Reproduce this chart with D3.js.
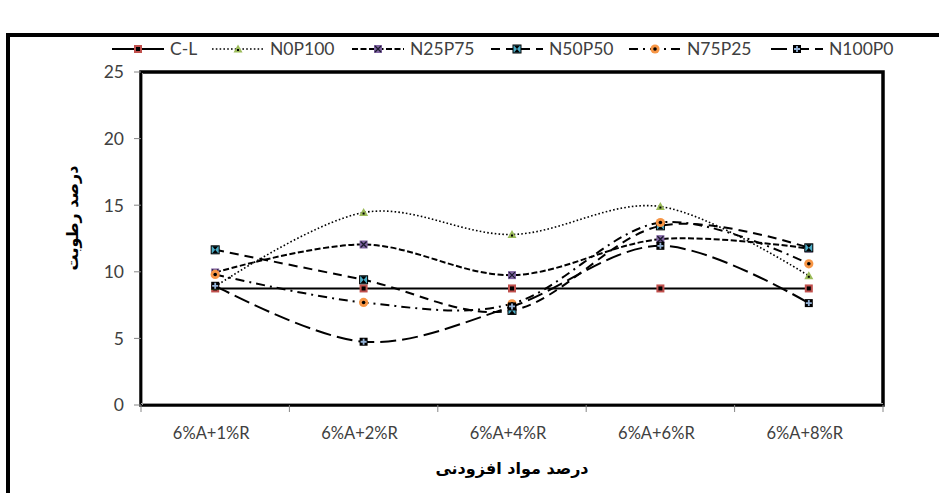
<!DOCTYPE html>
<html>
<head>
<meta charset="utf-8">
<script src="https://cdn.jsdelivr.net/npm/d3@7"></script>
<style>
html,body{margin:0;padding:0;background:#fff;}
svg{display:block;}
</style>
</head>
<body>
<svg id="chart" width="939" height="493"></svg>
<script>
const categories = ["6%A+1%R","6%A+2%R","6%A+4%R","6%A+6%R","6%A+8%R"];
const seriesNames = ["C-L","N0P100","N25P75","N50P50","N75P25","N100P0"];
const valCL     = [8.75, 8.75, 8.75, 8.75, 8.75];
const valN0P100 = [8.9, 14.45, 12.8, 14.9, 9.7];
const valN25P75 = [9.95, 12.05, 9.75, 12.45, 11.75];
const valN50P50 = [11.65, 9.4, 7.1, 13.45, 11.8];
const valN75P25 = [9.8, 7.7, 7.6, 13.7, 10.6];
const valN100P0 = [8.95, 4.75, 7.4, 11.95, 7.65];
const yTicks = [0,5,10,15,20,25];
const yTitle = "درصد رطوبت";
const xTitle = "درصد مواد افزودنی";

const seriesValues = [valCL, valN0P100, valN25P75, valN50P50, valN75P25, valN100P0];
const styles = [
  {dash:null, width:2},
  {dash:"1.6,2.2", width:1.6},
  {dash:"6,2.5", width:2},
  {dash:"9,6", width:2},
  {dash:"9,5,2,5", width:2},
  {dash:"16,6", width:2}
];

const svg = d3.select("#chart");
const L=141, R=883, T=72, B=405;
const x = d3.scaleBand().domain(categories).range([L,R]);
const y = d3.scaleLinear().domain([0,25]).range([B,T]);
const cx = c => x(c) + x.bandwidth()/2;
const font = "Lato, 'Liberation Sans', sans-serif";
const txtCol = "#404040";

// outer frame
svg.append("rect").attr("x",8).attr("y",35).attr("width",960).attr("height",500)
  .attr("fill","none").attr("stroke","#000").attr("stroke-width",4);

// plot frame
svg.append("rect").attr("x",L).attr("y",T).attr("width",R-L).attr("height",B-T)
  .attr("fill","#fff").attr("stroke","#000").attr("stroke-width",3.5);
svg.append("line").attr("x1",L+1.5).attr("x2",L+1.5).attr("y1",T+1).attr("y2",B)
  .attr("stroke","#9a9a9a").attr("stroke-width",1);
svg.append("line").attr("x1",L).attr("x2",R).attr("y1",B-1.5).attr("y2",B-1.5)
  .attr("stroke","#9a9a9a").attr("stroke-width",1);

// y ticks & labels
const yAxis = svg.append("g");
yTicks.forEach(t=>{
  yAxis.append("line").attr("x1",L-7).attr("x2",L).attr("y1",y(t)).attr("y2",y(t))
    .attr("stroke","#868686").attr("stroke-width",1);
  yAxis.append("text").attr("x",124).attr("y",y(t)).attr("dy","0.36em")
    .attr("text-anchor","end").attr("font-family",font).attr("font-size",17.5)
    .attr("fill",txtCol).text(t);
});

// x ticks at band boundaries
const bounds = categories.map(c=>x(c)).concat([x(categories[categories.length-1])+x.bandwidth()]);
bounds.forEach(bx=>{
  svg.append("line").attr("x1",bx).attr("x2",bx).attr("y1",B).attr("y2",B+7)
    .attr("stroke","#868686").attr("stroke-width",1);
});
categories.forEach(c=>{
  svg.append("text").attr("x",cx(c)-4).attr("y",433).attr("dy","0.36em")
    .attr("text-anchor","middle").attr("font-family",font).attr("font-size",16.5)
    .attr("fill",txtCol).text(c);
});

// axis titles
svg.append("text").attr("transform","translate(72,218) rotate(-90)")
  .attr("text-anchor","middle").attr("dy","0.35em")
  .attr("font-family","'DejaVu Sans', 'Noto Sans', sans-serif").attr("font-weight","bold")
  .attr("font-size",16).attr("fill","#000").attr("direction","rtl").text(yTitle);
svg.append("text").attr("x",(L+R)/2).attr("y",468).attr("dy","0.35em")
  .attr("text-anchor","middle")
  .attr("font-family","'DejaVu Sans', 'Noto Sans', sans-serif").attr("font-weight","bold")
  .attr("font-size",16).attr("fill","#000").attr("direction","rtl").text(xTitle);

// markers
function drawMarker(g, i, px, py){
  const s = 4;
  if(i===0){
    g.append("rect").attr("x",px-s).attr("y",py-s).attr("width",2*s).attr("height",2*s).attr("fill","#C0504D");
    g.append("rect").attr("x",px-2).attr("y",py-2).attr("width",4).attr("height",4).attr("fill","#000");
  } else if(i===1){
    g.append("path").attr("d",`M${px},${py-4.5}L${px+4.5},${py+3.5}L${px-4.5},${py+3.5}Z`).attr("fill","#9BBB59");
    g.append("rect").attr("x",px-1).attr("y",py).attr("width",2).attr("height",2).attr("fill","#000");
  } else if(i===2){
    g.append("rect").attr("x",px-s).attr("y",py-s).attr("width",2*s).attr("height",2*s).attr("fill","#8064A2");
    g.append("path").attr("d",`M${px-3},${py-3}L${px+3},${py+3}M${px+3},${py-3}L${px-3},${py+3}`)
      .attr("stroke","#1a1a2e").attr("stroke-width",1.3);
  } else if(i===3){
    g.append("rect").attr("x",px-s).attr("y",py-s).attr("width",2*s).attr("height",2*s).attr("fill","#4BACC6")
      .attr("stroke","#000").attr("stroke-width",1);
    g.append("path").attr("d",`M${px-3},${py-3.5}L${px+3},${py-3.5}L${px},${py}Z M${px-3},${py+3.5}L${px+3},${py+3.5}L${px},${py}Z`)
      .attr("fill","#000");
  } else if(i===4){
    g.append("circle").attr("cx",px).attr("cy",py).attr("r",4.6).attr("fill","#F79646");
    g.append("circle").attr("cx",px).attr("cy",py).attr("r",1.8).attr("fill","#000");
  } else {
    g.append("rect").attr("x",px-s).attr("y",py-s).attr("width",2*s).attr("height",2*s).attr("fill","#000");
    g.append("path").attr("d",`M${px-3},${py}L${px+3},${py}M${px},${py-3}L${px},${py+3}`)
      .attr("stroke","#95B3D7").attr("stroke-width",1.8);
  }
}

// lines
const lineGen = d3.line().x((d,i)=>cx(categories[i])).y(d=>y(d)).curve(d3.curveCardinal.tension(0));
const plot = svg.append("g");
seriesValues.forEach((vals,i)=>{
  const g = plot.append("g");
  g.append("path").datum(vals).attr("d",lineGen).attr("fill","none")
    .attr("stroke","#000").attr("stroke-width",styles[i].width)
    .attr("stroke-dasharray",styles[i].dash);
  vals.forEach((v,j)=>drawMarker(g,i,cx(categories[j]),y(v)));
});

// legend
const legX = [112, 212, 352, 491, 629, 771];
const legY = 49;
seriesNames.forEach((n,i)=>{
  const g = svg.append("g");
  const x0 = legX[i], x1 = x0+52;
  g.append("line").attr("x1",x0).attr("x2",x1).attr("y1",legY).attr("y2",legY)
    .attr("stroke","#000").attr("stroke-width",styles[i].width)
    .attr("stroke-dasharray",styles[i].dash);
  drawMarker(g,i,(x0+x1)/2,legY);
  g.append("text").attr("x",x1+6).attr("y",legY).attr("dy","0.36em")
    .attr("font-family",font).attr("font-size",17.5).attr("fill",txtCol).text(n);
});
</script>
</body>
</html>
